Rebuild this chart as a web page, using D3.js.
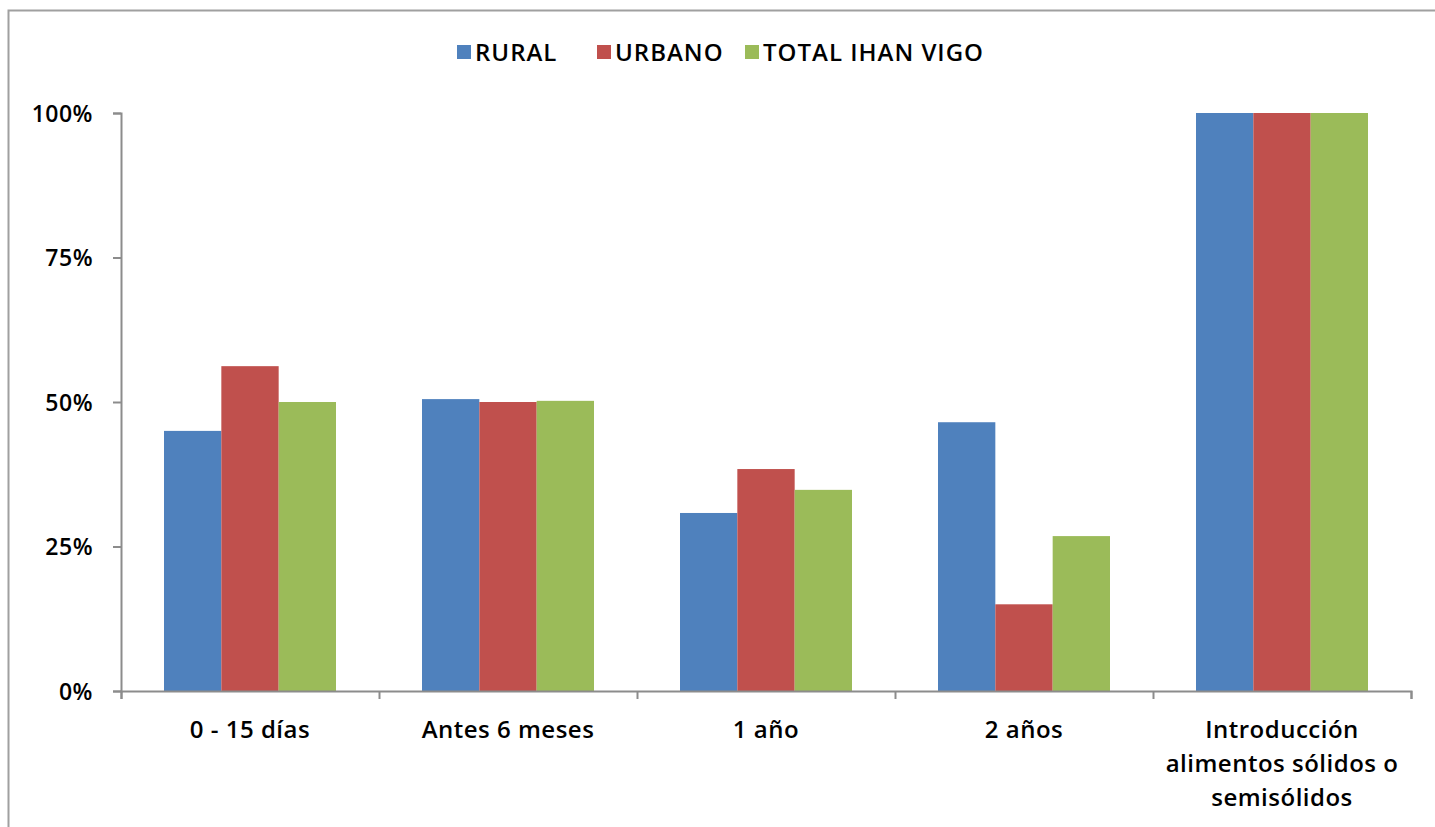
<!DOCTYPE html>
<html>
<head>
<meta charset="utf-8">
<script src="https://cdn.jsdelivr.net/npm/d3@7"></script>
<style>
  body { margin: 0; background: #fff; }
  text { font-family: "Open Sans", Lato, sans-serif; fill: #000; font-weight: 600; }
</style>
</head>
<body>
<svg id="chart" width="1435" height="827"></svg>
<script>
const categories = [
  ["0 - 15 días"],
  ["Antes 6 meses"],
  ["1 año"],
  ["2 años"],
  ["Introducción", "alimentos sólidos o", "semisólidos"]
];
const seriesNames = ["RURAL", "URBANO", "TOTAL IHAN VIGO"];
const rural = [0.45, 0.505, 0.308, 0.465, 1.0];
const urbano = [0.562, 0.50, 0.384, 0.15, 1.0];
const total = [0.50, 0.502, 0.348, 0.268, 1.0];
const yTicks = [0, 0.25, 0.5, 0.75, 1];

const colors = ["#4f81bd", "#c0504d", "#9bbb59"];
const series = [rural, urbano, total];

const svg = d3.select("#chart");
const margin = { left: 121, right: 24, top: 113, bottom: 136 };
const width = 1435 - margin.left - margin.right;
const height = 827 - margin.top - margin.bottom;

// outer chart border (runs off right and bottom)
svg.append("rect")
  .attr("x", 8.5).attr("y", 10.5)
  .attr("width", 1500).attr("height", 900)
  .attr("fill", "none").attr("stroke", "#a0a0a0").attr("stroke-width", 2);

const g = svg.append("g").attr("transform", `translate(${margin.left},${margin.top})`);

const x0 = d3.scaleBand().domain(d3.range(categories.length)).range([0, width]).paddingInner(0).paddingOuter(0);
// Excel gap width 150%: 3 bars + 1.5 bar gap
const groupInner = 3 / 4.5;
const x1 = d3.scaleBand().domain(d3.range(series.length))
  .range([x0.bandwidth() * (1 - groupInner) / 2, x0.bandwidth() * (1 + groupInner) / 2]);
const y = d3.scaleLinear().domain([0, 1]).range([height, 0]);

// bars
const groups = g.selectAll("g.cat").data(categories).enter().append("g")
  .attr("class", "cat")
  .attr("transform", (d, i) => `translate(${x0(i)},0)`);

groups.selectAll("rect").data((d, i) => series.map((s, k) => ({ k: k, v: s[i] })))
  .enter().append("rect")
  .attr("x", d => x1(d.k))
  .attr("width", x1.bandwidth())
  .attr("y", d => y(d.v))
  .attr("height", d => height - y(d.v))
  .attr("fill", d => colors[d.k]);

const axisColor = "#8c8c8c";

// y axis
const yAxis = g.append("g").call(d3.axisLeft(y).tickValues(yTicks).tickSize(8).tickPadding(20)
  .tickFormat(d => Math.round(d * 100) + "%"));
yAxis.select(".domain").attr("stroke", axisColor).attr("stroke-width", 2);
yAxis.selectAll(".tick line").attr("stroke", axisColor).attr("stroke-width", 2);
yAxis.selectAll(".tick text").style("font-size", "23px").style("letter-spacing", "0.5px").attr("dy", "0.35em");

// x axis
const xLin = d3.scaleLinear().domain([0, categories.length]).range([0, width]);
const xAxis = g.append("g").attr("transform", `translate(0,${height})`)
  .call(d3.axisBottom(xLin).tickValues(d3.range(categories.length + 1)).tickSize(8).tickFormat(""));
xAxis.select(".domain").attr("stroke", axisColor).attr("stroke-width", 2);
xAxis.selectAll(".tick line").attr("stroke", axisColor).attr("stroke-width", 2);

// category labels
const labels = g.append("g").attr("transform", `translate(0,${height})`);
labels.selectAll("text").data(categories).enter().append("text")
  .attr("x", (d, i) => x0(i) + x0.bandwidth() / 2)
  .attr("y", 47)
  .attr("text-anchor", "middle")
  .style("font-size", "24px")
  .style("letter-spacing", "0.5px")
  .each(function (lines) {
    d3.select(this).selectAll("tspan").data(lines).enter().append("tspan")
      .attr("x", d3.select(this).attr("x"))
      .attr("dy", (d, j) => j === 0 ? 0 : 34)
      .text(d => d);
  });

// legend
const legendX = [457, 597, 745];
const legend = svg.append("g");
seriesNames.forEach((name, k) => {
  legend.append("rect").attr("x", legendX[k]).attr("y", 45).attr("width", 14).attr("height", 14).attr("fill", colors[k]);
  legend.append("text").attr("x", legendX[k] + 18).attr("y", 61)
    .style("font-size", "24px").style("letter-spacing", "1px").text(name);
});
</script>
</body>
</html>
